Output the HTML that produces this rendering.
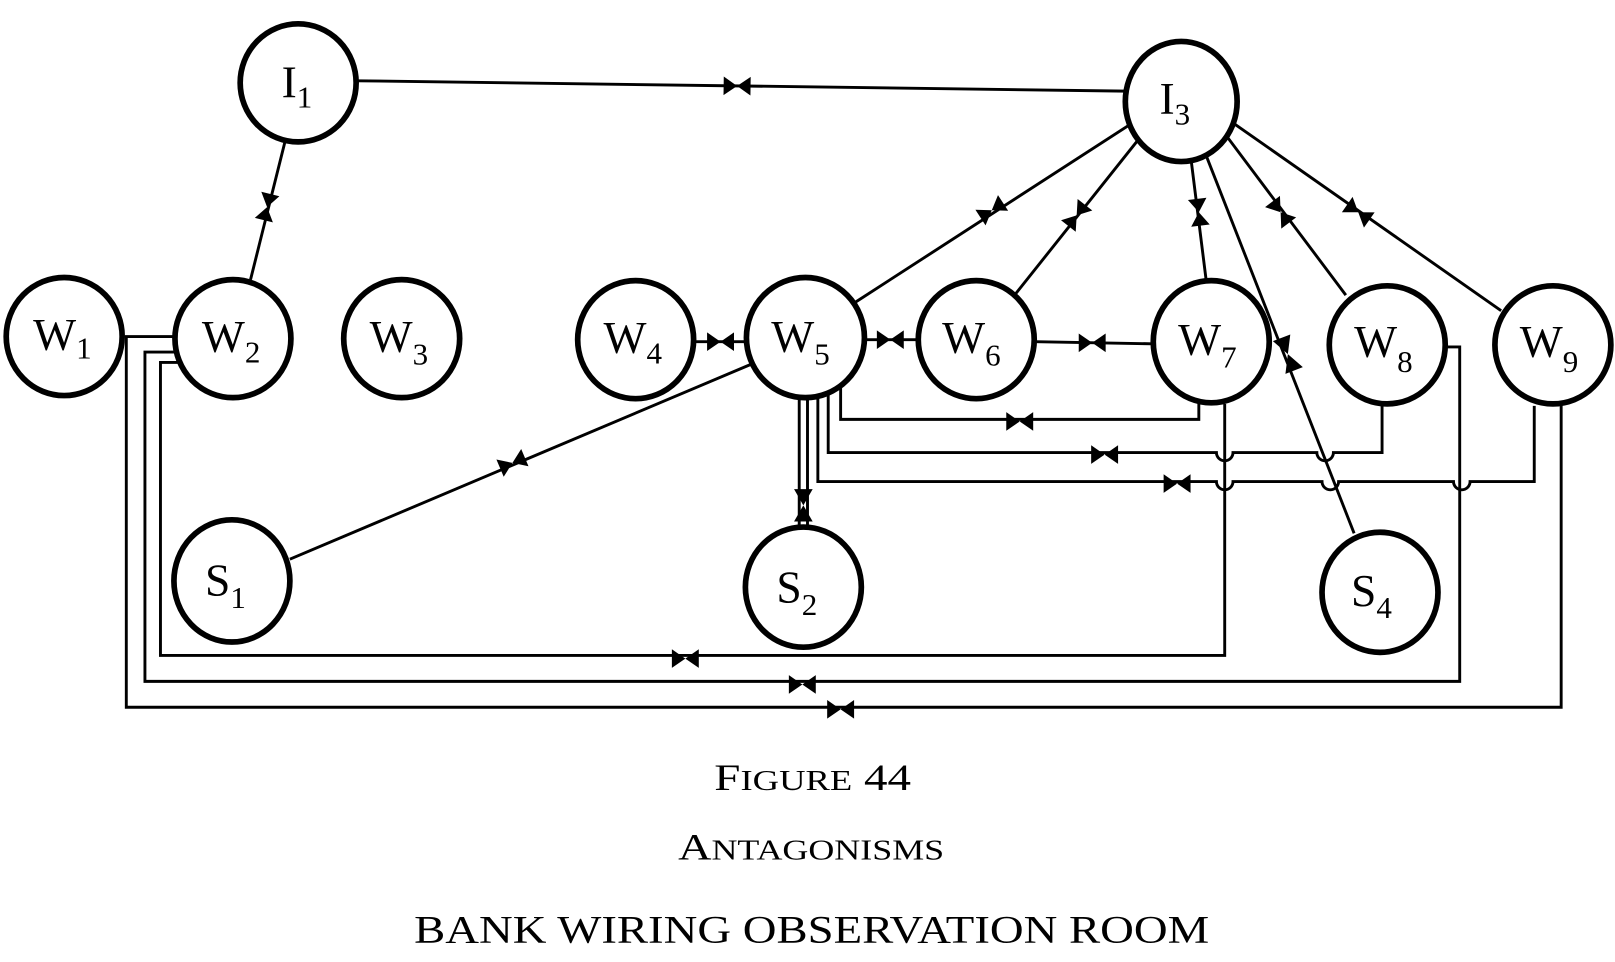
<!DOCTYPE html>
<html><head><meta charset="utf-8"><style>
html,body{margin:0;padding:0;background:#fff;}
svg{display:block;}
.n{fill:#fff;stroke:#000;stroke-width:5.5;}
.l{fill:none;stroke:#000;stroke-width:2.8;}
.t{font-family:"Liberation Serif",serif;font-size:44px;fill:#000;}
.s{font-size:30px;}
.c{font-family:"Liberation Serif",serif;fill:#000;}
</style></head><body>
<svg width="1615" height="962" viewBox="0 0 1560 929" preserveAspectRatio="none" xmlns="http://www.w3.org/2000/svg">
<defs>
<path id="b" d="M-13,-9 L0,0 L-13,9Z M13,-9 L0,0 L13,9Z" fill="#000"/>
</defs>
<g class="l">
<line x1="345" y1="78" x2="1087" y2="88"/>
<line x1="275" y1="138" x2="242" y2="270"/>
<line x1="1095" y1="118" x2="826" y2="292"/>
<line x1="1105" y1="128" x2="980" y2="285"/>
<line x1="1150" y1="150" x2="1165" y2="270"/>
<line x1="1165" y1="150" x2="1308" y2="515"/>
<line x1="1180" y1="125" x2="1300" y2="285"/>
<line x1="1190" y1="118" x2="1450" y2="300"/>
<line x1="672" y1="330" x2="720" y2="330"/>
<line x1="837" y1="328" x2="885" y2="328"/>
<line x1="1000" y1="330" x2="1113" y2="332"/>
<line x1="725" y1="352" x2="280" y2="540"/>
<line x1="772" y1="385" x2="772" y2="508"/>
<line x1="780" y1="385" x2="780" y2="508"/>
<polyline points="812,372 812,405 1158,405 1158,388"/>
<path d="M800,380 V437 H1175 a8,8 0 0 0 16,0 H1272 a8,8 0 0 0 16,0 H1335 V385"/>
<path d="M790,380 V465 H1175 a8,8 0 0 0 16,0 H1277 a8,8 0 0 0 16,0 H1404 a8,8 0 0 0 16,0 H1482 V392"/>
<polyline points="1183,390 1183,633 155,633 155,350 178,350"/>
<polyline points="1397,335 1410,335 1410,658 140,658 140,340 170,340"/>
<polyline points="1508,390 1508,683 122,683 122,325 170,325"/>
</g>
<g>
<use href="#b" transform="translate(712,83) rotate(0.8)"/>
<use href="#b" transform="translate(258,200) rotate(104)"/>
<use href="#b" transform="translate(958,203) rotate(147)"/>
<use href="#b" transform="translate(1040,208) rotate(128)"/>
<use href="#b" transform="translate(1158,205) rotate(83)"/>
<use href="#b" transform="translate(1244,342) rotate(69) scale(1.3,1)"/>
<use href="#b" transform="translate(1237,205) rotate(53)"/>
<use href="#b" transform="translate(1312,205) rotate(35)"/>
<use href="#b" transform="translate(696,330)"/>
<use href="#b" transform="translate(860,328)"/>
<use href="#b" transform="translate(1055,331)"/>
<use href="#b" transform="translate(495,447) rotate(157)"/>
<use href="#b" transform="translate(776,488) rotate(90) scale(1.2,1)"/>
<use href="#b" transform="translate(985,407)"/>
<use href="#b" transform="translate(1067,439)"/>
<use href="#b" transform="translate(1137,467)"/>
<use href="#b" transform="translate(662,636)"/>
<use href="#b" transform="translate(775,661)"/>
<use href="#b" transform="translate(812,685)"/>
</g>
<g>
<ellipse class="n" cx="288" cy="80" rx="56" ry="57"/>
<ellipse class="n" cx="1141" cy="98" rx="54" ry="58"/>
<ellipse class="n" cx="62" cy="325" rx="56" ry="57"/>
<ellipse class="n" cx="225" cy="327" rx="56" ry="57"/>
<ellipse class="n" cx="388" cy="327" rx="56" ry="57"/>
<ellipse class="n" cx="614" cy="328" rx="56" ry="57"/>
<ellipse class="n" cx="778" cy="326" rx="57" ry="58"/>
<ellipse class="n" cx="943" cy="328" rx="56" ry="57"/>
<ellipse class="n" cx="1170" cy="330" rx="56" ry="59"/>
<ellipse class="n" cx="1340" cy="333" rx="56" ry="57"/>
<ellipse class="n" cx="1500" cy="333" rx="56" ry="57"/>
<ellipse class="n" cx="224" cy="561" rx="56" ry="59"/>
<ellipse class="n" cx="776" cy="567" rx="56" ry="58"/>
<ellipse class="n" cx="1333" cy="572" rx="56" ry="58"/>
</g>
<g class="t">
<text x="272" y="94">I<tspan class="s" dy="10">1</tspan></text>
<text x="1120" y="110">I<tspan class="s" dy="10">3</tspan></text>
<text x="32" y="338">W<tspan class="s" dy="8">1</tspan></text>
<text x="195" y="340">W<tspan class="s" dy="10">2</tspan></text>
<text x="357" y="340">W<tspan class="s" dy="12">3</tspan></text>
<text x="583" y="341">W<tspan class="s" dy="10">4</tspan></text>
<text x="745" y="340">W<tspan class="s" dy="12">5</tspan></text>
<text x="910" y="341">W<tspan class="s" dy="12">6</tspan></text>
<text x="1138" y="343">W<tspan class="s" dy="12">7</tspan></text>
<text x="1308" y="345">W<tspan class="s" dy="14">8</tspan></text>
<text x="1468" y="345">W<tspan class="s" dy="14">9</tspan></text>
<text x="198" y="575">S<tspan class="s" dy="12">1</tspan></text>
<text x="750" y="582">S<tspan class="s" dy="12">2</tspan></text>
<text x="1305" y="585">S<tspan class="s" dy="12">4</tspan></text>
</g>
<text class="c" x="690" y="763" font-size="36" textLength="190" lengthAdjust="spacingAndGlyphs">F<tspan font-size="28">IGURE</tspan> 44</text>
<text class="c" x="655" y="830" font-size="36" textLength="257" lengthAdjust="spacingAndGlyphs">A<tspan font-size="28">NTAGONISMS</tspan></text>
<text class="c" x="400" y="910" font-size="38" textLength="768" lengthAdjust="spacingAndGlyphs">BANK  WIRING  OBSERVATION  ROOM</text>
</svg>
</body></html>
